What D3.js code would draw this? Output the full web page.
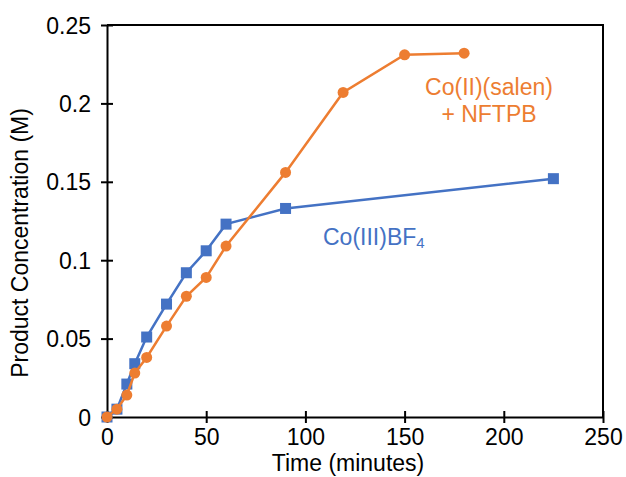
<!DOCTYPE html>
<html>
<head>
<meta charset="utf-8">
<script src="https://cdn.jsdelivr.net/npm/d3@7"></script>
<style>
  body { margin: 0; background: #fff; }
  text { font-family: "Liberation Sans", Arial, sans-serif; }
</style>
</head>
<body>
<div id="canvas"></div>
<script>
"use strict"

/* Configuration variables: drawing */
let svgWidth = 626;
let svgHeight = 477;
/* plot area edges */
let leftEdge = 107;
let rightEdge = 603;
let topEdge = 25;
let bottomEdge = 417;
let fontSize = "23px";

/* Data */
let blueTime = [0, 5, 10, 14, 20, 30, 40, 50, 60, 90, 225];
let blueConc = [0, 0.005, 0.021, 0.034, 0.051, 0.072, 0.092, 0.106, 0.123, 0.133, 0.152];
let orangeTime = [0, 5, 10, 14, 20, 30, 40, 50, 60, 90, 119, 150, 180];
let orangeConc = [0, 0.005, 0.014, 0.028, 0.038, 0.058, 0.077, 0.089, 0.109, 0.156, 0.207, 0.231, 0.232];
let xTicks = [0, 50, 100, 150, 200, 250];
let yTicks = [0, 0.05, 0.1, 0.15, 0.2, 0.25];

let blueColor = "#4472C4";
let orangeColor = "#ED7D31";

let svg = d3.select("#canvas")
    .append("svg")
    .attr("width", svgWidth)
    .attr("height", svgHeight);

svg.append("rect")
    .attr("width", svgWidth)
    .attr("height", svgHeight)
    .attr("fill", "white");

let xScale = d3.scaleLinear()
    .domain([0, 250])
    .range([leftEdge, rightEdge]);

let yScale = d3.scaleLinear()
    .domain([0, 0.25])
    .range([bottomEdge, topEdge]);

/* frame: top and right border */
svg.append("path")
    .attr("d", `M${leftEdge},${topEdge}H${rightEdge}V${bottomEdge}`)
    .attr("fill", "none")
    .attr("stroke", "black")
    .attr("stroke-width", 2);

/* x axis */
let xAxis = svg.append("g")
    .attr("transform", `translate(0,${bottomEdge})`)
    .call(d3.axisBottom(xScale).tickValues(xTicks).tickSize(6).tickSizeOuter(0).tickFormat(d3.format("d")));

/* y axis */
let yAxis = svg.append("g")
    .attr("transform", `translate(${leftEdge},0)`)
    .call(d3.axisLeft(yScale).tickValues(yTicks).tickSize(6).tickSizeOuter(0).tickFormat(function (d) {
        return d === 0 ? "0" : String(+d.toFixed(2));
    }));

/* style both axes like the original: thick black, ticks crossing the line */
[xAxis, yAxis].forEach(function (axis) {
    axis.select(".domain").attr("stroke", "black").attr("stroke-width", 2);
    axis.selectAll(".tick line").attr("stroke", "black").attr("stroke-width", 2);
    axis.selectAll(".tick text")
        .attr("fill", "black")
        .style("font-size", fontSize)
        .style("font-family", "'Liberation Sans', Arial, sans-serif");
});
xAxis.selectAll(".tick line").attr("y1", -6).attr("y2", 6);
xAxis.selectAll(".tick text").attr("y", 12);
yAxis.selectAll(".tick line").attr("x1", -6).attr("x2", 6);
yAxis.selectAll(".tick text").attr("x", -16).attr("dy", "0.35em");

/* axis titles */
svg.append("text")
    .attr("x", 348)
    .attr("y", 471)
    .attr("text-anchor", "middle")
    .style("font-size", fontSize)
    .text("Time (minutes)");

svg.append("text")
    .attr("transform", "translate(28,243) rotate(-90)")
    .attr("text-anchor", "middle")
    .style("font-size", fontSize)
    .text("Product Concentration (M)");

/* series */
let line = d3.line()
    .x(function (d) { return xScale(d[0]); })
    .y(function (d) { return yScale(d[1]); });

let orangeData = orangeTime.map(function (t, i) { return [t, orangeConc[i]]; });
let blueData = blueTime.map(function (t, i) { return [t, blueConc[i]]; });

svg.append("path")
    .datum(blueData)
    .attr("d", line)
    .attr("fill", "none")
    .attr("stroke", blueColor)
    .attr("stroke-width", 2.5);

svg.selectAll(".blueMark")
    .data(blueData)
    .join("rect")
    .attr("class", "blueMark")
    .attr("x", function (d) { return xScale(d[0]) - 5.5; })
    .attr("y", function (d) { return yScale(d[1]) - 5.5; })
    .attr("width", 11)
    .attr("height", 11)
    .attr("fill", blueColor);

svg.append("path")
    .datum(orangeData)
    .attr("d", line)
    .attr("fill", "none")
    .attr("stroke", orangeColor)
    .attr("stroke-width", 2.5);

svg.selectAll(".orangeMark")
    .data(orangeData)
    .join("circle")
    .attr("class", "orangeMark")
    .attr("cx", function (d) { return xScale(d[0]); })
    .attr("cy", function (d) { return yScale(d[1]); })
    .attr("r", 5.5)
    .attr("fill", orangeColor);

/* series labels */
svg.append("text")
    .attr("x", 489)
    .attr("y", 95)
    .attr("text-anchor", "middle")
    .attr("fill", orangeColor)
    .style("font-size", fontSize)
    .text("Co(II)(salen)");

svg.append("text")
    .attr("x", 489)
    .attr("y", 122)
    .attr("text-anchor", "middle")
    .attr("fill", orangeColor)
    .style("font-size", fontSize)
    .text("+ NFTPB");

let blueLabel = svg.append("text")
    .attr("x", 323)
    .attr("y", 245)
    .attr("fill", blueColor)
    .style("font-size", fontSize)
    .text("Co(III)BF");
blueLabel.append("tspan")
    .attr("dy", 3)
    .style("font-size", "15px")
    .text("4");
</script>
</body>
</html>
